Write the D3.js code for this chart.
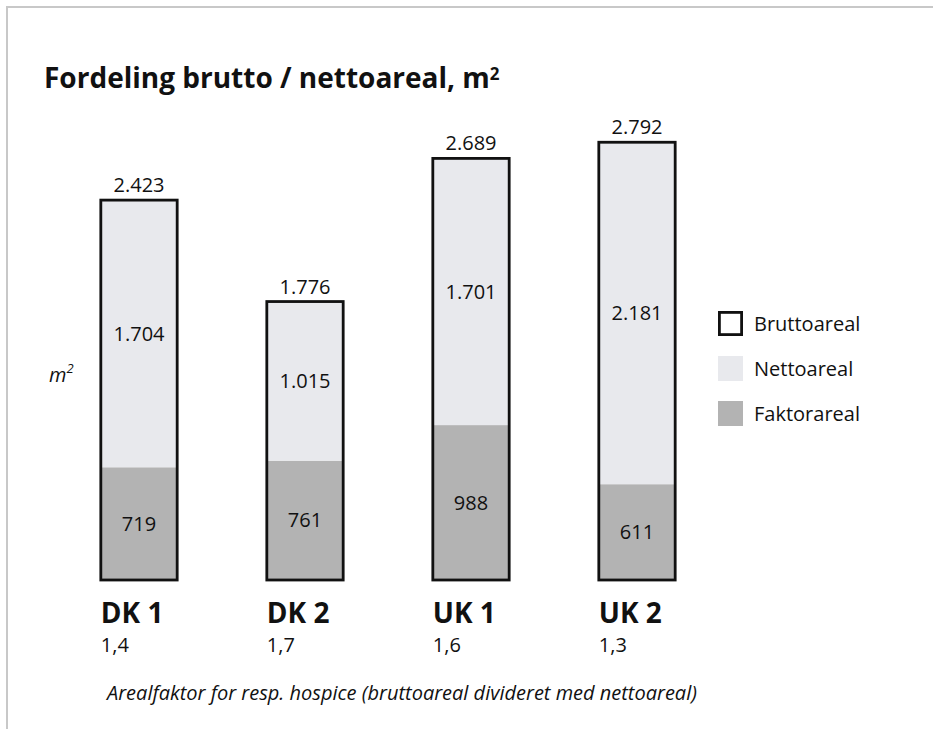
<!DOCTYPE html>
<html>
<head>
<meta charset="utf-8">
<script src="https://cdn.jsdelivr.net/npm/d3@7"></script>
<style>
  body { margin: 0; background: #fff; }
  svg { display: block; font-family: "Open Sans", sans-serif; }
</style>
</head>
<body>
<div id="chart"></div>
<script>
const hospices = ["DK 1", "DK 2", "UK 1", "UK 2"];
const brutto = [2423, 1776, 2689, 2792];
const netto = [1704, 1015, 1701, 2181];
const faktor = [719, 761, 988, 611];
const arealfaktor = ["1,4", "1,7", "1,6", "1,3"];
const legendLabels = ["Bruttoareal", "Nettoareal", "Faktorareal"];

const width = 933;
const height = 729;

const nettoColor = "#e8e9ed";
const faktorColor = "#b3b3b3";
const frameColor = "#c8c8c8";

// danish number format: 2.423
const dk = d3.formatLocale({ decimal: ",", thousands: ".", grouping: [3], currency: ["", " kr"] });
const fmt = dk.format(",d");

const svg = d3
  .select("#chart")
  .append("svg")
  .attr("width", width)
  .attr("height", height);

// frame
svg.append("line")
  .attr("x1", 6).attr("x2", width).attr("y1", 7).attr("y2", 7)
  .attr("stroke", frameColor).attr("stroke-width", 2);
svg.append("line")
  .attr("x1", 7).attr("x2", 7).attr("y1", 6).attr("y2", height)
  .attr("stroke", frameColor).attr("stroke-width", 2);

// title
const title = svg.append("text")
  .attr("x", 44)
  .attr("y", 88)
  .attr("font-size", 28)
  .attr("font-weight", 700)
  .attr("fill", "#111")
  .text("Fordeling brutto / nettoareal, m");
title.append("tspan").attr("font-size", 17).attr("dy", -8).text("2");

const x = d3.scaleBand()
  .domain(hospices)
  .range([56, 720])
  .paddingInner(0.54)
  .paddingOuter(0.27);

const y = d3.scaleLinear()
  .domain([0, 2800])
  .range([580, 141]);

const rows = hospices.map((h, i) => ({
  name: h,
  brutto: brutto[i],
  netto: netto[i],
  faktor: faktor[i],
  af: arealfaktor[i],
}));

const bars = svg.append("g")
  .selectAll("g")
  .data(rows)
  .enter()
  .append("g");

// faktorareal (bottom)
bars.append("rect")
  .attr("x", (d) => x(d.name))
  .attr("width", x.bandwidth())
  .attr("y", (d) => y(d.faktor))
  .attr("height", (d) => y(0) - y(d.faktor))
  .attr("fill", faktorColor);

// nettoareal (top)
bars.append("rect")
  .attr("x", (d) => x(d.name))
  .attr("width", x.bandwidth())
  .attr("y", (d) => y(d.faktor + d.netto))
  .attr("height", (d) => y(d.faktor) - y(d.faktor + d.netto))
  .attr("fill", nettoColor);

// bruttoareal outline
bars.append("rect")
  .attr("x", (d) => x(d.name))
  .attr("width", x.bandwidth())
  .attr("y", (d) => y(d.brutto))
  .attr("height", (d) => y(0) - y(d.brutto))
  .attr("fill", "none")
  .attr("stroke", "#111")
  .attr("stroke-width", 2.8);

// value labels
bars.append("text")
  .attr("x", (d) => x(d.name) + x.bandwidth() / 2)
  .attr("y", (d) => y(d.brutto) - 8)
  .attr("text-anchor", "middle")
  .attr("font-size", 20)
  .attr("fill", "#111")
  .text((d) => fmt(d.brutto));

bars.append("text")
  .attr("x", (d) => x(d.name) + x.bandwidth() / 2)
  .attr("y", (d) => (y(d.faktor) + y(d.faktor + d.netto)) / 2)
  .attr("dy", "0.35em")
  .attr("text-anchor", "middle")
  .attr("font-size", 20)
  .attr("fill", "#111")
  .text((d) => fmt(d.netto));

bars.append("text")
  .attr("x", (d) => x(d.name) + x.bandwidth() / 2)
  .attr("y", (d) => (y(0) + y(d.faktor)) / 2)
  .attr("dy", "0.35em")
  .attr("text-anchor", "middle")
  .attr("font-size", 20)
  .attr("fill", "#111")
  .text((d) => fmt(d.faktor));

// category labels
bars.append("text")
  .attr("x", (d) => x(d.name))
  .attr("y", 623)
  .attr("font-size", 28)
  .attr("font-weight", 700)
  .attr("fill", "#111")
  .text((d) => d.name);

bars.append("text")
  .attr("x", (d) => x(d.name))
  .attr("y", 652)
  .attr("font-size", 20)
  .attr("fill", "#111")
  .text((d) => d.af);

// y unit
const unit = svg.append("text")
  .attr("x", 49)
  .attr("y", 382)
  .attr("font-size", 20)
  .attr("font-style", "italic")
  .attr("fill", "#111")
  .text("m");
unit.append("tspan").attr("font-size", 13).attr("dy", -9).text("2");

// footnote
svg.append("text")
  .attr("x", 107)
  .attr("y", 700)
  .attr("font-size", 20)
  .attr("font-style", "italic")
  .attr("fill", "#111")
  .text("Arealfaktor for resp. hospice (bruttoareal divideret med nettoareal)");

// legend
const legend = svg.append("g")
  .selectAll("g")
  .data(legendLabels)
  .enter()
  .append("g")
  .attr("transform", (d, i) => `translate(718, ${311 + i * 45})`);

legend.append("rect")
  .attr("x", (d, i) => (i === 0 ? 1.4 : 0))
  .attr("y", (d, i) => (i === 0 ? 1.4 : 0))
  .attr("width", (d, i) => (i === 0 ? 22.2 : 25))
  .attr("height", (d, i) => (i === 0 ? 22.2 : 25))
  .attr("fill", (d, i) => (i === 0 ? "#fff" : i === 1 ? nettoColor : faktorColor))
  .attr("stroke", (d, i) => (i === 0 ? "#111" : "none"))
  .attr("stroke-width", 2.8);

legend.append("text")
  .attr("x", 36)
  .attr("y", 12.5)
  .attr("dy", "0.35em")
  .attr("font-size", 20)
  .attr("fill", "#111")
  .text((d) => d);
</script>
</body>
</html>
